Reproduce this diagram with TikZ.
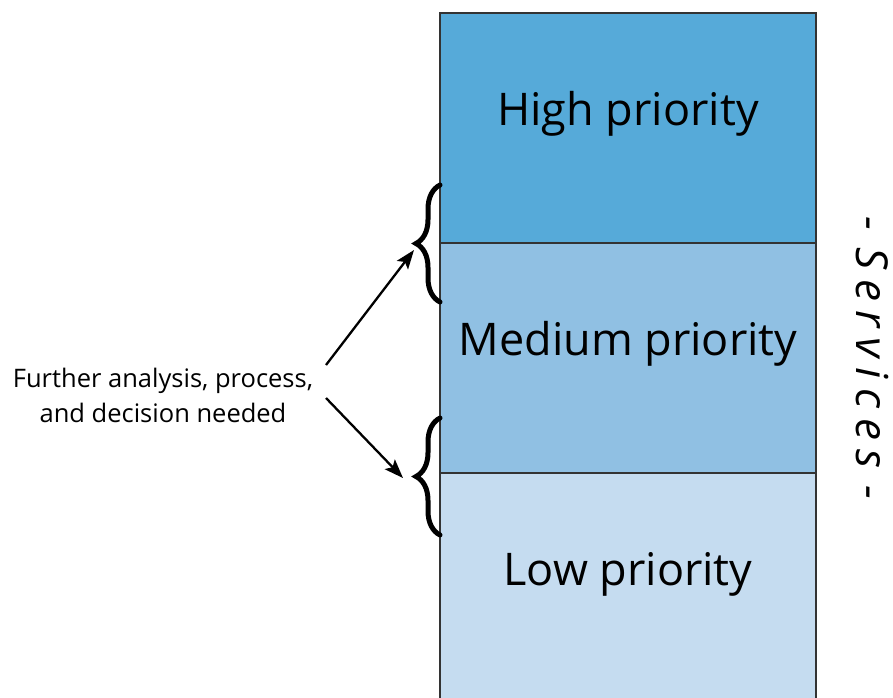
\documentclass[tikz,border=0pt]{standalone}
\usepackage{fontspec}
\setmainfont{Open Sans}
\usetikzlibrary{decorations.pathreplacing,arrows.meta}
\definecolor{hiC}{HTML}{56AAD9}
\definecolor{meC}{HTML}{90C0E3}
\definecolor{loC}{HTML}{C5DCF0}
\definecolor{edgeC}{HTML}{333333}
\tikzset{
  band/.style={draw=edgeC, line width=1.3pt, minimum width=376pt, minimum height=230pt, inner sep=0pt, outer sep=0pt},
  bandtext/.style={font=\fontsize{45}{50}\selectfont, inner sep=0pt},
  bracestyle/.style={decorate, decoration={brace, amplitude=24pt, aspect=0.5}, line width=5pt, line cap=round},
  arrowstyle/.style={-{Stealth[length=19pt, width=14pt, inset=4pt]}, line width=2.3pt}
}
\begin{document}
\begin{tikzpicture}[x=1pt,y=1pt]
\useasboundingbox (0,0) rectangle (893,-697);
\node[band, fill=hiC, anchor=north west] (high) at (440,-13) {};
\node[band, fill=meC, anchor=north west] (med) at (440,-243) {};
\node[band, fill=loC, anchor=north west] (low) at (440,-473) {};
\node[bandtext] (hight) at (628,-114) {High priority};
\node[bandtext] (medt) at (628,-344) {Medium priority};
\node[bandtext] (lowt) at (628,-574) {Low priority};
\node[align=center, font=\fontsize{25.5}{35}\selectfont, inner sep=0pt] (note) at (163,-395) {Further analysis, process,\\and decision needed};
\coordinate (b1s) at (440,-302);
\coordinate (b1e) at (440,-185);
\coordinate (b2s) at (440,-535);
\coordinate (b2e) at (440,-418);
\draw[bracestyle] (b1s) -- (b1e);
\draw[bracestyle] (b2s) -- (b2e);
\coordinate (a1s) at (326,-365);
\coordinate (a1e) at (414,-250);
\coordinate (a2s) at (326,-398);
\coordinate (a2e) at (403,-478);
\draw[arrowstyle] (a1s) -- (a1e);
\draw[arrowstyle] (a2s) -- (a2e);
\node[rotate=-90, font=\itshape\fontsize{44}{48}\selectfont, inner sep=0pt] (serv) at (872,-358) {-\hspace{0.38em}S\hspace{0.22em}e\hspace{0.22em}r\hspace{0.22em}v\hspace{0.22em}i\hspace{0.22em}c\hspace{0.22em}e\hspace{0.22em}s\hspace{0.38em}-};
\end{tikzpicture}
\end{document}
